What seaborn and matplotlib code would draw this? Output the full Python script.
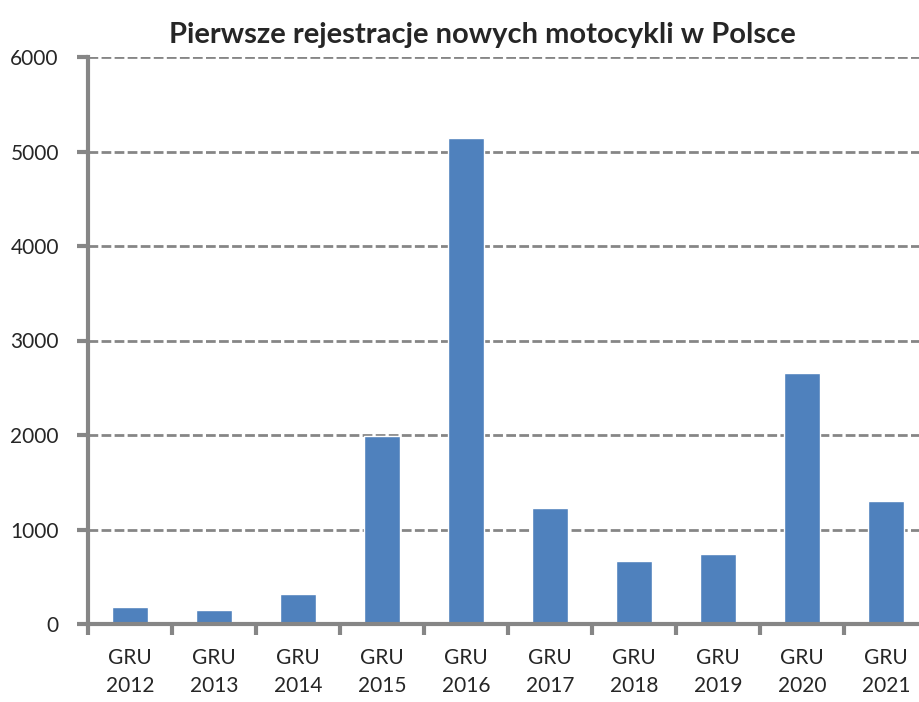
import numpy as np
import pandas as pd
import matplotlib
matplotlib.use("Agg")
import matplotlib.pyplot as plt
import seaborn as sns

# Chart data
years = ["2012", "2013", "2014", "2015", "2016", "2017", "2018", "2019", "2020", "2021"]
labels = ["GRU\n" + y for y in years]
registrations = [175, 150, 320, 1990, 5140, 1230, 670, 745, 2660, 1300]

df = pd.DataFrame({"label": labels, "value": registrations})

sns.set_style("white")
plt.rcParams["font.family"] = ["Lato", "DejaVu Sans"]

grey = "#868686"
fig = plt.figure(figsize=(9.19, 7.02), dpi=100)
ax = fig.add_axes([88 / 919, 78 / 702, 840 / 919, 567 / 702])

sns.barplot(data=df, x="label", y="value", color="#4f81bd", saturation=1,
            width=0.43, ax=ax, zorder=3)

ax.set_ylim(0, 6000)
ax.set_xlim(-0.5, len(labels) - 0.5)
ax.set_yticks(range(0, 6001, 1000))
ax.yaxis.grid(True, color=grey, linestyle=(0, (3.5, 1.2)), linewidth=2, zorder=0)
ax.set_axisbelow(True)

for s in ["top", "right"]:
    ax.spines[s].set_visible(False)
for s in ["left", "bottom"]:
    ax.spines[s].set_color(grey)
    ax.spines[s].set_linewidth(3)
    ax.spines[s].set_zorder(4)

# tick marks between categories
ax.set_xticks(np.arange(-0.5, len(labels), 1), minor=True)
ax.tick_params(axis="x", which="minor", bottom=True, length=8, width=3, color=grey, direction="out")
ax.tick_params(axis="x", which="major", bottom=True, length=0, pad=17, labelsize=15)
ax.tick_params(axis="y", left=True, length=8, width=3, color=grey, direction="out", pad=13, labelsize=15)
for t in ax.get_xticklabels():
    t.set_linespacing(1.55)

ax.set_xlabel("")
ax.set_ylabel("")
ax.set_title("Pierwsze rejestracje nowych motocykli w Polsce", fontsize=21,
             fontweight="bold", pad=10, x=(482 - 88) / 840)

fig.savefig("out.png", dpi=100)
